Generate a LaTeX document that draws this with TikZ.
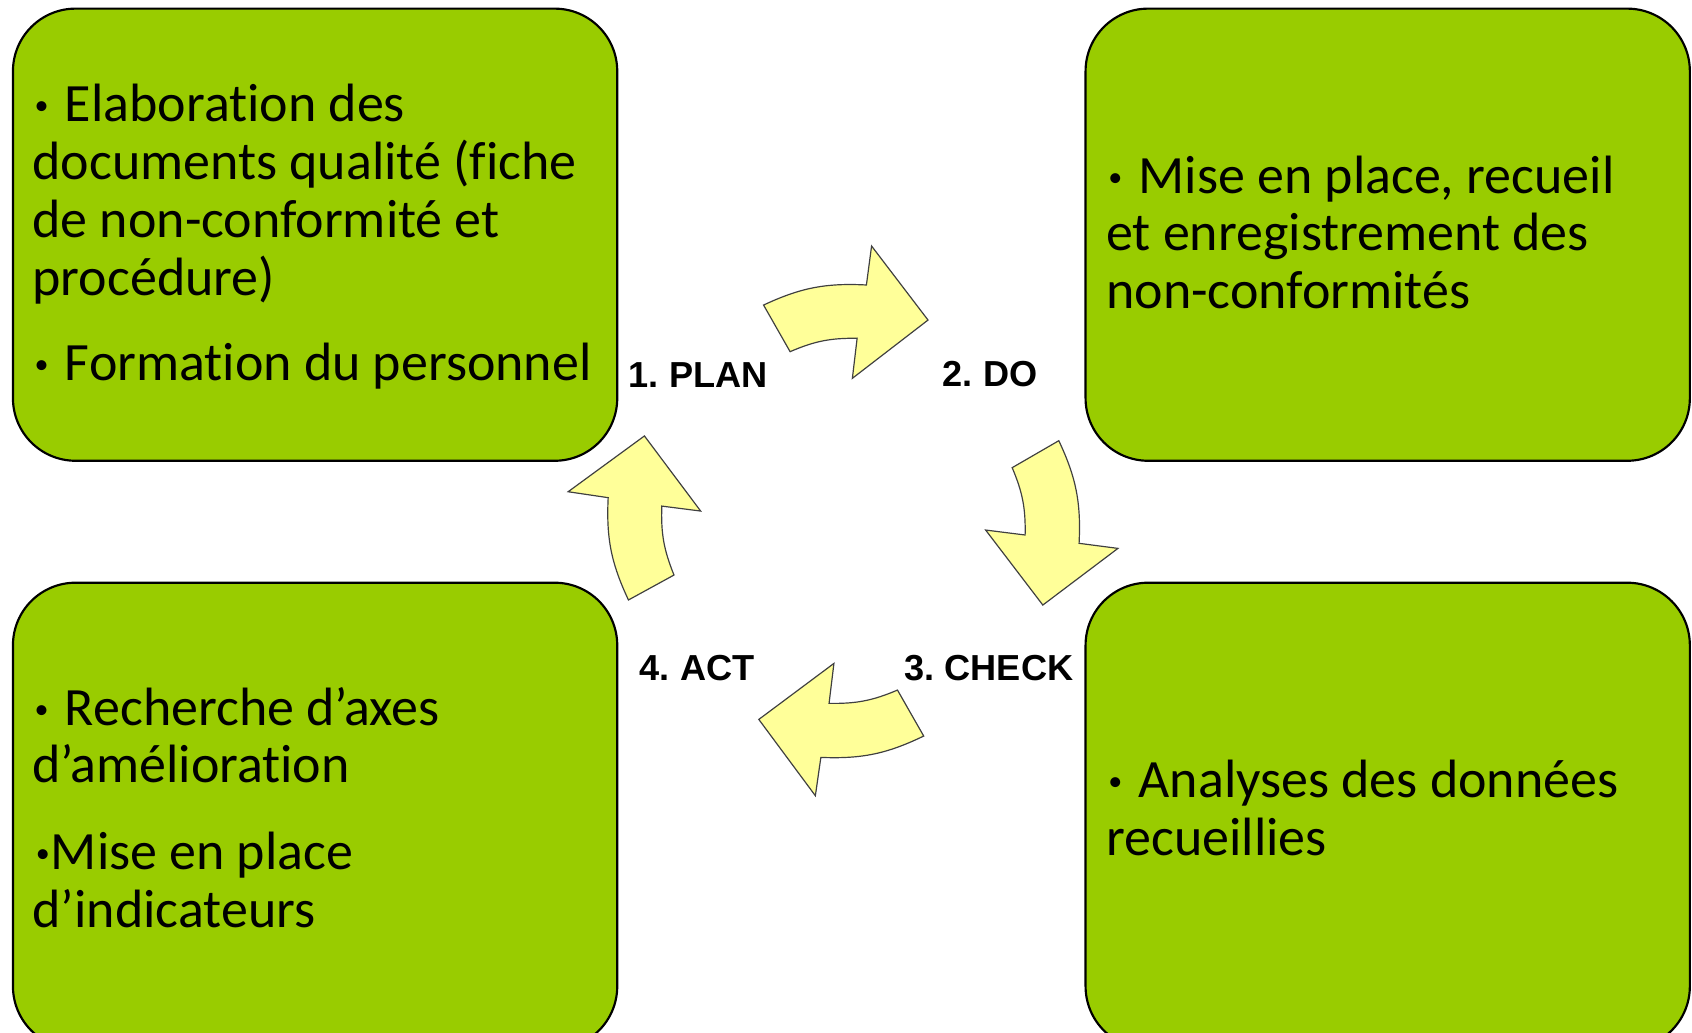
\documentclass[tikz,border=0pt]{standalone}
\usepackage{fontspec}
\setmainfont{Carlito}[Ligatures=NoCommon]
\newfontfamily\lblfont{Liberation Sans}
\frenchspacing
\definecolor{boxgreen}{HTML}{99CC00}
\definecolor{arrowyellow}{HTML}{FFFF99}
\definecolor{arrowline}{HTML}{404040}
\newcommand\bulsp{\makebox[30pt][l]{\hspace{2pt}\raisebox{6.5pt}{\fontsize{26}{26}\selectfont•}}}
\newcommand\bulns{\makebox[17pt][l]{\hspace{3pt}\raisebox{6.5pt}{\fontsize{26}{26}\selectfont•}}}
\tikzset{
  greenbox/.style={fill=boxgreen, draw=black, line width=2pt, rounded corners=58pt},
  cyclearrow/.style={fill=arrowyellow, draw=arrowline, line width=1.1pt, line join=miter},
  boxtext/.style={anchor=base west, inner sep=0pt, font=\fontsize{50}{53.5}\selectfont},
  steplabel/.style={anchor=center, inner sep=0pt, font=\lblfont\bfseries\fontsize{33.5}{40}\selectfont},
}
\begin{document}
\begin{tikzpicture}[x=1pt,y=-1pt]
\useasboundingbox (0,0) rectangle (1568,957);
\clip (0,0) rectangle (1568,957);
\fill[white] (0,0) rectangle (1568,957);

% boxes
\path[greenbox] (12,8) rectangle (572,427);
\path[greenbox] (1006,8) rectangle (1566,427);
\path[greenbox] (12,540) rectangle (572,972);
\path[greenbox] (1006,540) rectangle (1566,972);

% box 1 text
\node[boxtext] (p1a) at (30,113) {\bulsp Elaboration des};
\node[boxtext] (p1b) at (30,166.5) {documents qualité (fiche};
\node[boxtext] (p1c) at (30,220) {de non-conformité et};
\node[boxtext] (p1d) at (30,273.5) {procédure)};
\node[boxtext] (p1e) at (30,353) {\bulsp Formation du personnel};

% box 2 text
\node[boxtext] (d1a) at (1025,179) {\bulsp Mise en place, recueil};
\node[boxtext] (d1b) at (1025,232.5) {et enregistrement des};
\node[boxtext] (d1c) at (1025,286) {non-conformités};

% box 3 text
\node[boxtext] (a1a) at (30,672) {\bulsp Recherche d’axes};
\node[boxtext] (a1b) at (30,725.5) {d’amélioration};
\node[boxtext] (a1c) at (30,806) {\bulns Mise en place};
\node[boxtext] (a1d) at (30,859.5) {d’indicateurs};

% box 4 text
\node[boxtext] (c1a) at (1025,739) {\bulsp Analyses des données};
\node[boxtext] (c1b) at (1025,792.5) {recueillies};

% cycle arrows
\draw[cyclearrow] (707.6,282.7) to[bend left=14] (802.9,264.1) -- (807.7,228) -- (860,296.6)
  -- (789.9,350.6) -- (794.3,313.5) to[bend right=12] (732.2,325.9) -- cycle;
\draw[cyclearrow] (981.2,408.4) to[bend left=14] (1000,503.5) -- (1036,508.2) -- (966.4,560.7)
  -- (913.4,491.2) -- (950,495.8) to[bend right=12] (938,433.4) -- cycle;
\draw[cyclearrow] (856,682.1) to[bend left=14] (760.7,701.9) -- (755.6,737.4) -- (703.2,666.7)
  -- (772.8,614.8) -- (768.3,651.8) to[bend right=12] (831.7,639.5) -- cycle;
\draw[cyclearrow] (582.4,556) to[bend left=14] (563.6,461.2) -- (526.5,455.7) -- (597.2,404)
  -- (649.3,473.6) -- (613.3,469) to[bend right=12] (624.6,532.9) -- cycle;

% step labels
\node[steplabel] (plan) at (647,348) {1. PLAN};
\node[steplabel] (do) at (917.5,347) {2. DO};
\node[steplabel] (check) at (916.5,619) {3. CHECK};
\node[steplabel] (act) at (646,619) {4. ACT};
\end{tikzpicture}
\end{document}
